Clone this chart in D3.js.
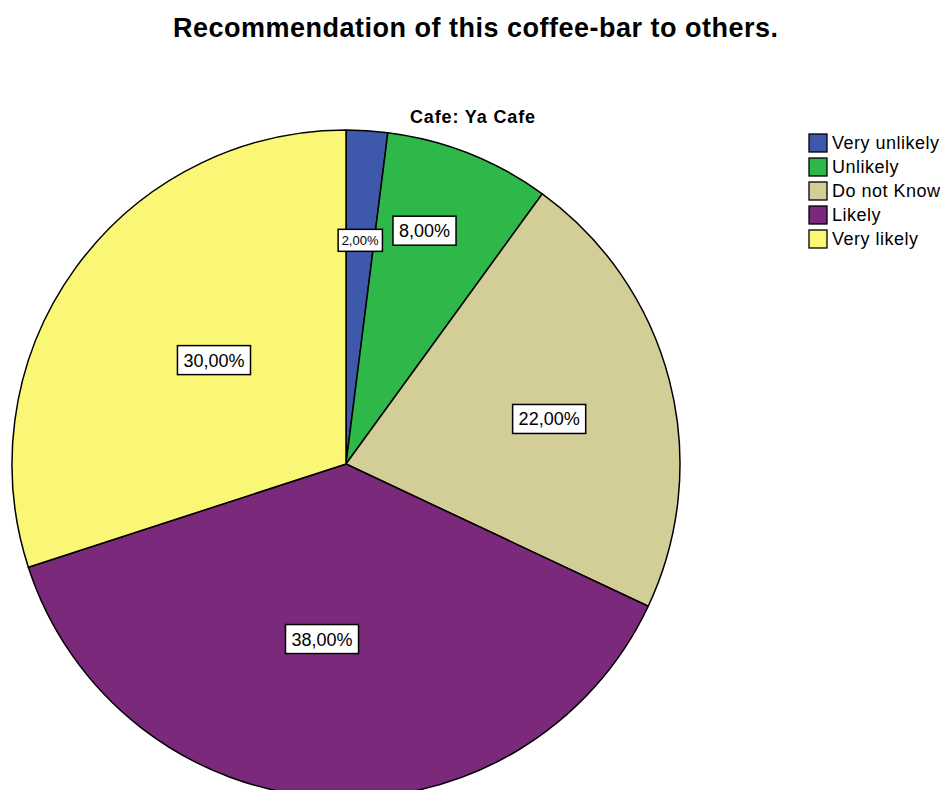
<!DOCTYPE html>
<html>
<head>
<meta charset="utf-8">
<script src="https://cdn.jsdelivr.net/npm/d3@7/dist/d3.min.js"></script>
<style>
  html, body { margin: 0; padding: 0; background: #fff; }
  svg { display: block; font-family: "Liberation Sans", Arial, sans-serif; }
</style>
</head>
<body>
<svg id="chart" width="941" height="790"></svg>
<script>
// Survey answers, share of respondents (%)
const categories = ["Very unlikely", "Unlikely", "Do not Know", "Likely", "Very likely"];
const percents = [2, 8, 22, 38, 30];
const colors = ["#3e58ac", "#2fb84a", "#d3ce98", "#7b2a7b", "#fbf776"];
const titleText = "Recommendation of this coffee-bar to others.";
const subtitleText = "Cafe: Ya Cafe";

const svg = d3.select("#chart");

const cx = 346, cy = 464, R = 334;
// value-label placement per slice: fraction of radius and angular nudge (degrees)
const labelRadius = [0.671, 0.737, 0.623, 0.529, 0.503];
const labelNudge = [0, -3, 1.9, 4.2, 2.2];
const labelSize = [13, 18, 18, 18, 18];

svg.append("text")
  .attr("x", 475.5).attr("y", 37)
  .attr("text-anchor", "middle")
  .attr("font-size", 27).attr("font-weight", "bold")
  .attr("textLength", 605).attr("lengthAdjust", "spacing")
  .text(titleText);

svg.append("text")
  .attr("x", 472.5).attr("y", 123)
  .attr("text-anchor", "middle")
  .attr("font-size", 18).attr("font-weight", "bold")
  .attr("textLength", 125).attr("lengthAdjust", "spacing")
  .text(subtitleText);

const pie = d3.pie().sort(null).value(d => d)(percents);
const arc = d3.arc().innerRadius(0).outerRadius(R);

const g = svg.append("g").attr("transform", `translate(${cx},${cy})`);
g.selectAll("path.slice").data(pie).join("path")
  .attr("class", "slice")
  .attr("d", arc)
  .attr("fill", (d, i) => colors[i])
  .attr("stroke", "#000")
  .attr("stroke-width", 1.5)
  .attr("stroke-linejoin", "round");

const fmt = v => d3.format(".2f")(v).replace(".", ",") + "%";

const labels = g.selectAll("g.lab").data(pie).join("g")
  .attr("class", "lab")
  .attr("transform", (d, i) => {
    const a = (d.startAngle + d.endAngle) / 2 + labelNudge[i] * Math.PI / 180;
    const r = R * labelRadius[i];
    return `translate(${r * Math.sin(a)},${-r * Math.cos(a)})`;
  });

labels.each(function (d, i) {
  const sel = d3.select(this);
  const big = labelSize[i] > 14;
  const t = sel.append("text")
    .attr("text-anchor", "middle")
    .attr("dy", "0.36em")
    .attr("font-size", labelSize[i])
    .text(fmt(d.data));
  const bb = t.node().getBBox();
  const px = big ? 6 : 3.5;
  const h = big ? 29 : 22;
  sel.insert("rect", "text")
    .attr("x", bb.x - px).attr("y", -h / 2)
    .attr("width", bb.width + 2 * px).attr("height", h)
    .attr("fill", "#fff").attr("stroke", "#000").attr("stroke-width", 1.5);
});

// Legend
const legend = svg.append("g").attr("transform", "translate(809,134)");
const rowH = 24;
const items = legend.selectAll("g").data(categories).join("g")
  .attr("transform", (d, i) => `translate(0,${i * rowH})`);
items.append("rect")
  .attr("x", 0).attr("y", 0).attr("width", 18).attr("height", 18)
  .attr("fill", (d, i) => colors[i])
  .attr("stroke", "#000").attr("stroke-width", 1.3);
items.append("text")
  .attr("x", 23).attr("y", 9).attr("dy", "0.36em")
  .attr("font-size", 18)
  .attr("letter-spacing", 0.5)
  .text(d => d);
</script>
</body>
</html>
